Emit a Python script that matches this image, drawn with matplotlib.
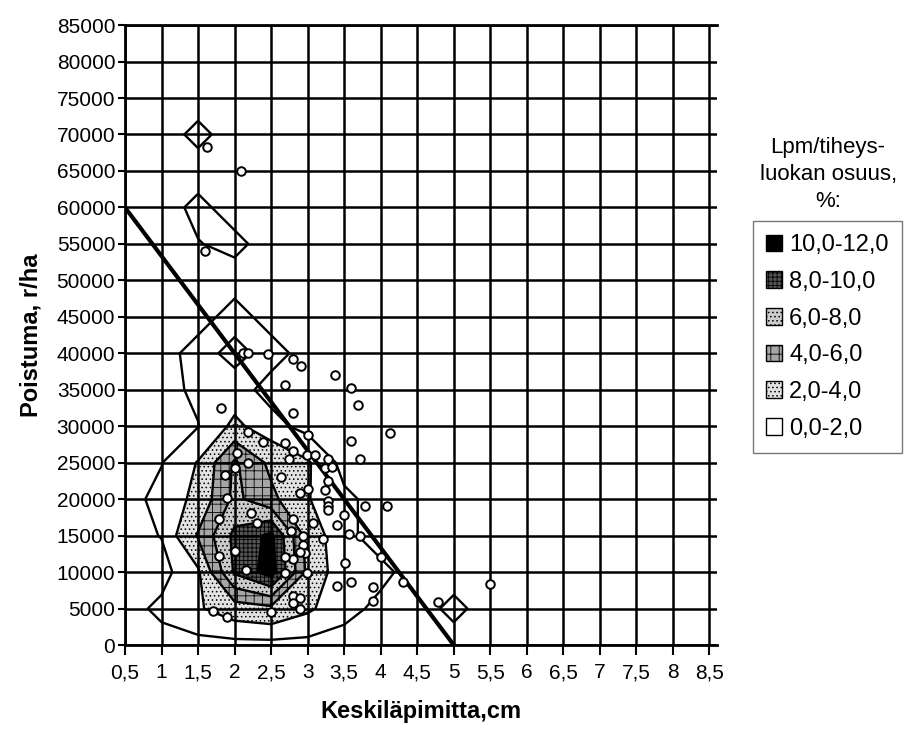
import numpy as np
import matplotlib.pyplot as plt
from matplotlib.patches import Patch
from matplotlib.ticker import FuncFormatter, MultipleLocator

plt.rcParams['font.family'] = ['Liberation Sans', 'DejaVu Sans']
plt.rcParams['hatch.linewidth'] = 0.6
plt.rcParams['hatch.color'] = 'black'

# Share of diameter/density class (%) on the 0.5 cm x 5000 r/ha grid
grid_x = [0.5, 1.0, 1.5, 2.0, 2.5, 3.0, 3.5, 4.0, 4.5, 5.0, 5.5]
grid_y = [0, 5000, 10000, 15000, 20000, 25000, 30000, 35000,
          40000, 45000, 50000, 55000, 60000, 65000, 70000, 75000]
share_rows = [
    [0, 0,    0,    0,   0,    0,   0,   0,   0, 0,   0],
    [0, 0.8,  1.8,  3.0, 3.5,  2.3, 0.9, 0.2, 0, 0.8, 0],
    [0, 0,    1.7,  8.3, 11.0, 3.5, 0.8, 0.8, 0, 0,   0],
    [0, 0.55, 4.2,  8.5, 10.5, 3.1, 0.8, 0,   0, 0,   0],
    [0, 0.9,  2.5,  6.5, 4.5,  2.1, 0.8, 0,   0, 0,   0],
    [0, 0.45, 2.1,  6.3, 3.5,  2.2, 0,   0,   0, 0,   0],
    [0, 0,    0.45, 2.4, 1.0,  0,   0,   0,   0, 0,   0],
    [0, 0,    0.8,  1.1, 0,    0,   0,   0,   0, 0,   0],
    [0, 0,    1.0,  0.1, 1.0,  0,   0,   0,   0, 0,   0],
    [0, 0,    0,    1.0, 0,    0,   0,   0,   0, 0,   0],
    [0, 0,    0,    0,   0,    0,   0,   0,   0, 0,   0],
    [0, 0,    0.45, 0.8, 0,    0,   0,   0,   0, 0,   0],
    [0, 0,    0.8,  0,   0,    0,   0,   0,   0, 0,   0],
    [0, 0,    0,    0,   0,    0,   0,   0,   0, 0,   0],
    [0, 0,    0.8,  0,   0,    0,   0,   0,   0, 0,   0],
    [0, 0,    0,    0,   0,    0,   0,   0,   0, 0,   0],
]

# Observed stands: mean diameter (cm) and removal (trees/ha)
obs_d = [1.62, 2.09, 1.60, 2.12, 2.19, 2.46, 2.80, 2.91, 3.37, 2.69,
         3.59, 3.69, 1.81, 2.80, 4.13, 3.00, 2.19, 2.39, 2.69, 3.59,
         2.80, 2.74, 2.99, 3.10, 3.28, 3.72, 3.24, 3.34, 2.03, 2.19,
         2.01, 1.87, 2.63, 3.28, 2.89, 3.01, 3.24, 1.90, 3.28, 3.28,
         3.28, 3.78, 4.08, 3.50, 3.40, 3.07, 2.80, 2.22, 2.31, 1.78,
         2.77, 3.21, 3.56, 3.72, 2.93, 2.93, 2.96, 2.90, 2.80, 2.69,
         2.01, 1.78, 3.51, 4.00, 4.30, 5.50, 2.15, 2.69, 2.99, 3.40,
         3.59, 3.89, 3.89, 4.78, 2.80, 2.90, 2.90, 2.80, 2.50, 1.71,
         1.90]
obs_n = [68300, 65000, 54000, 40000, 40000, 39900, 39200, 38200, 37000, 35700,
         35300, 32900, 32500, 31800, 29100, 28800, 29200, 27900, 27700, 28000,
         26600, 25500, 26100, 26100, 25500, 25500, 24300, 24400, 26300, 24900,
         24300, 23300, 23000, 22500, 20900, 21400, 21200, 20200, 19800, 19100,
         18500, 19000, 19000, 17800, 16500, 16700, 17300, 18100, 16700, 17300,
         15600, 14500, 15200, 14900, 14900, 13700, 12600, 12700, 11800, 12100,
         12900, 12200, 11300, 12100, 8600, 8300, 10300, 9900, 9900, 8100,
         8600, 8000, 6100, 5900, 6700, 6400, 4900, 5700, 4500, 4600,
         3800]

# Fitted line
fit_d = [0.5, 5.0]
fit_n = [60000, 0]

band_levels = [2, 4, 6, 8, 10, 12]
line_levels = [0.5, 2, 4, 6, 8, 10]
band_labels = ['2,0-4,0', '4,0-6,0', '6,0-8,0', '8,0-10,0', '10,0-12,0']
band_colors = ['#e2e2e2', '#a6a6a6', '#cccccc', '#555555', '#000000']
band_hatches = ['....', '++', '....', '++++', None]

fig = plt.figure(figsize=(9.09, 7.38), dpi=100)
ax = fig.add_axes([0.1375, 0.126, 0.651, 0.840])

X, Y = np.meshgrid(grid_x, grid_y)
Z = np.array(share_rows)
ax.contourf(X, Y, Z, levels=band_levels, colors=band_colors,
            hatches=band_hatches, zorder=1)
ax.contour(X, Y, Z, levels=line_levels, colors='black', linewidths=1.7,
           zorder=2)

ax.plot(fit_d, fit_n, color='black', linewidth=3, zorder=4)
ax.scatter(obs_d, obs_n, s=38, facecolor='white', edgecolor='black',
           linewidth=1.4, zorder=5)

ax.set_xlim(0.5, 8.6)
ax.set_ylim(0, 85000)
ax.xaxis.set_major_locator(MultipleLocator(0.5))
ax.yaxis.set_major_locator(MultipleLocator(5000))
ax.xaxis.set_major_formatter(FuncFormatter(
    lambda v, p: '' if v > 8.51 else f'{v:g}'.replace('.', ',')))
ax.yaxis.set_major_formatter(FuncFormatter(lambda v, p: f'{v:.0f}'))
ax.set_axisbelow(False)
ax.grid(True, color='black', linewidth=1.8, zorder=3)
for side in ['left', 'bottom', 'top']:
    ax.spines[side].set_linewidth(2)
ax.spines['right'].set_visible(False)
ax.tick_params(axis='both', direction='out', width=1.5, labelsize=15,
               color='black')
ax.tick_params(axis='x', length=7, pad=6)
ax.tick_params(axis='y', length=5, pad=2)

ax.set_xlabel('Keskiläpimitta,cm', fontsize=17, fontweight='bold',
              labelpad=13)
ax.set_ylabel('Poistuma, r/ha', fontsize=17, fontweight='bold', labelpad=10)

handles = [Patch(facecolor=c, hatch=h, edgecolor='black', label=l)
           for c, h, l in zip(band_colors, band_hatches, band_labels)]
handles = handles[::-1] + [Patch(facecolor='white', edgecolor='black',
                                 label='0,0-2,0')]
leg = fig.legend(handles=handles, loc='upper left',
                 bbox_to_anchor=(0.828, 0.70), borderaxespad=0,
                 fontsize=17, frameon=True, fancybox=False,
                 edgecolor='#555555', handlelength=0.7, handleheight=0.7,
                 handletextpad=0.3, labelspacing=0.62, borderpad=0.55)
leg.get_frame().set_linewidth(1)
fig.text(0.911, 0.815, 'Lpm/tiheys-\nluokan osuus,\n%:', ha='center',
         va='top', fontsize=16, linespacing=1.4)

fig.savefig('out.png', dpi=100)
